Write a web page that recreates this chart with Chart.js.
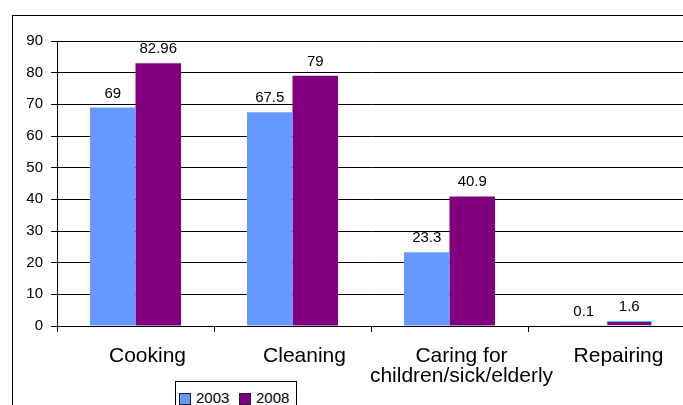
<!DOCTYPE html>
<html>
<head>
<meta charset="utf-8">
<script src="https://cdn.jsdelivr.net/npm/chart.js@4/dist/chart.umd.min.js"></script>
<style>
  html, body { margin: 0; padding: 0; background: #fff; overflow: hidden; }
  body { width: 683px; height: 405px; position: relative; font-family: "Liberation Sans", Arial, sans-serif; }
  #frame { position: absolute; left: 12px; top: 15px; width: 800px; height: 500px; border: 1px solid #000; }
  #chart { position: absolute; left: 0; top: 0; }
  #legend { position: absolute; left: 175px; top: 381px; width: 120px; height: 40px; border: 1px solid #000; background: #fff; }
  .key { position: absolute; top: 11px; width: 10px; height: 10px; border: 1px solid #222; }
  .lbl { position: absolute; top: 7px; font-size: 15px; line-height: 17px; color: #000; }
</style>
</head>
<body>
<div id="frame"></div>
<canvas id="chart" width="700" height="405"></canvas>
<div id="legend">
  <span class="key" style="left:3px;background:#6699ff"></span><span class="lbl" style="left:20px">2003</span>
  <span class="key" style="left:63px;background:#800080"></span><span class="lbl" style="left:80px">2008</span>
</div>
<script>
// Share of men doing each household task (per cent)
const categories = ["Cooking", "Cleaning", ["Caring for", "children/sick/elderly"], "Repairing"];
const values2003 = [69, 67.5, 23.3, 0.1];
const values2008 = [82.96, 79, 40.9, 1.6];
const yTicks = { min: 0, max: 90, step: 10 };

const FONT = "'Liberation Sans', Arial, sans-serif";

// Writes each bar's value just above it
const valueLabels = {
  id: 'valueLabels',
  afterDatasetsDraw(chart) {
    const ctx = chart.ctx;
    ctx.save();
    ctx.font = "15px " + FONT;
    ctx.fillStyle = '#000';
    ctx.textAlign = 'center';
    ctx.textBaseline = 'alphabetic';
    chart.data.datasets.forEach((ds, i) => {
      chart.getDatasetMeta(i).data.forEach((bar, j) => {
        ctx.fillText(String(ds.data[j]), bar.x, bar.y - 10);
      });
    });
    ctx.restore();
  }
};

new Chart(document.getElementById('chart'), {
  type: 'bar',
  data: {
    labels: categories,
    datasets: [
      {
        label: '2003',
        data: values2003,
        backgroundColor: '#6699ff',
        borderWidth: 0,
        categoryPercentage: 0.58,
        barPercentage: 1.0
      },
      {
        label: '2008',
        data: values2008,
        backgroundColor: '#800080',
        borderColor: ['#800080', '#800080', '#800080', '#33ccff'],
        borderWidth: [0, 0, 0, 1],
        categoryPercentage: 0.58,
        barPercentage: 1.0
      }
    ]
  },
  options: {
    responsive: false,
    animation: false,
    layout: { padding: { top: 41, right: 15, left: 0, bottom: 0 } },
    plugins: { legend: { display: false }, tooltip: { enabled: false } },
    scales: {
      x: {
        afterFit(scale) { scale.height = 79; },
        grid: { display: true, drawOnChartArea: false, drawTicks: true, tickLength: 6, color: '#000', offset: true },
        border: { display: true, color: '#000', width: 1 },
        ticks: {
          color: '#000',
          font: { family: FONT, size: 21, lineHeight: '20px' },
          padding: 14,
          labelOffset: 12,
          maxRotation: 0,
          autoSkip: false
        }
      },
      y: {
        min: yTicks.min,
        max: yTicks.max,
        afterFit(scale) { scale.width = 57; },
        grid: { color: '#000', lineWidth: 1, drawTicks: true, tickLength: 6 },
        border: { display: true, color: '#000', width: 1 },
        ticks: {
          stepSize: yTicks.step,
          color: '#000',
          font: { family: FONT, size: 15 },
          padding: 8
        }
      }
    }
  },
  plugins: [valueLabels]
});
</script>
</body>
</html>
